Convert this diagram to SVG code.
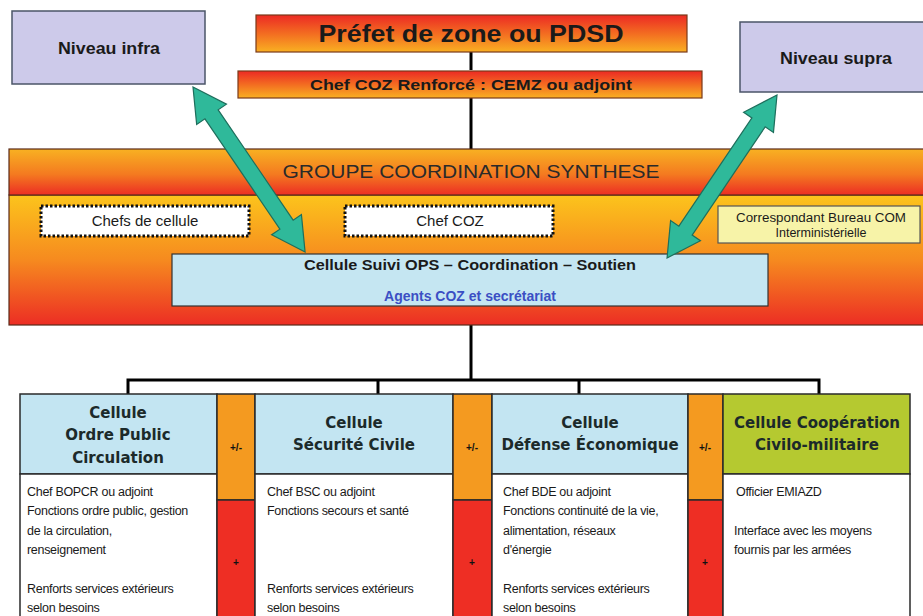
<svg xmlns="http://www.w3.org/2000/svg" width="923" height="616" viewBox="0 0 923 616">
<defs>
<linearGradient id="gTop" x1="0" y1="0" x2="0" y2="1">
<stop offset="0" stop-color="#ec2a24"/><stop offset="0.5" stop-color="#f36c21"/><stop offset="1" stop-color="#f9b022"/>
</linearGradient>
<linearGradient id="gHead" x1="0" y1="0" x2="0" y2="1">
<stop offset="0" stop-color="#f8b122"/><stop offset="0.55" stop-color="#f47a20"/><stop offset="1" stop-color="#ec2d24"/>
</linearGradient>
<linearGradient id="gBody" x1="0" y1="0" x2="0" y2="1">
<stop offset="0" stop-color="#fcc41c"/><stop offset="0.5" stop-color="#f68a1f"/><stop offset="1" stop-color="#ec2d24"/>
</linearGradient>
<style>
.t{font-family:"Liberation Sans",Arial,sans-serif;fill:#1a1a1a}
.b{font-weight:bold}
.blue{fill:#3b4fc4}
.grey{fill:#2a2a2a}
.niv{fill:#cdcaea;stroke:#4b5568;stroke-width:1.5}
.dot{fill:#ffffff;stroke:#111;stroke-width:3;stroke-dasharray:2.5,2}
.hd{font-family:"DejaVu Sans",Verdana,sans-serif;font-weight:bold;font-size:15px;fill:#1c2a2a}
.bd{font-family:"Liberation Sans",Arial,sans-serif;font-size:12.5px;fill:#1a1a1a;letter-spacing:-0.3px}
.cell{stroke:#2a2a2a;stroke-width:1.5}
.conn{fill:none;stroke:#000;stroke-width:3}
.arr{fill:#2fb99a;stroke:#1e6e5c;stroke-width:1.2}
.pm{font-family:"Liberation Sans",Arial,sans-serif;font-weight:bold;font-size:10px;fill:#111}
</style>
</defs>
<rect width="923" height="616" fill="#ffffff"/>

<g id="connectors">
<line class="conn" x1="471" y1="52" x2="471" y2="70"/>
<line class="conn" x1="471" y1="98" x2="471" y2="150"/>
<line class="conn" x1="471" y1="325" x2="471" y2="380"/>
<polyline class="conn" points="128,394 128,380 819,380 819,394"/>
<line class="conn" x1="378" y1="380" x2="378" y2="394"/>
<line class="conn" x1="579" y1="380" x2="579" y2="394"/>
</g>

<g id="niveau-infra">
<rect class="niv" x="12" y="11" width="193" height="73"/>
<text class="t b" x="109" y="54" font-size="16" text-anchor="middle" textLength="102" lengthAdjust="spacingAndGlyphs">Niveau infra</text>
</g>
<g id="niveau-supra">
<rect class="niv" x="740" y="22" width="190" height="70"/>
<text class="t b" x="836" y="64" font-size="16" text-anchor="middle" textLength="112" lengthAdjust="spacingAndGlyphs">Niveau supra</text>
</g>
<g id="prefet">
<rect x="256" y="15" width="431" height="37" fill="url(#gTop)" stroke="#7a3a1a" stroke-width="1.2"/>
<text class="t b" x="471" y="42" font-size="23" text-anchor="middle" textLength="305" lengthAdjust="spacingAndGlyphs">Préfet de zone ou PDSD</text>
</g>
<g id="chef-coz-renforce">
<rect x="238" y="71" width="464" height="27" fill="url(#gTop)" stroke="#7a3a1a" stroke-width="1.2"/>
<text class="t b" x="471" y="90" font-size="15" text-anchor="middle" textLength="322" lengthAdjust="spacingAndGlyphs">Chef COZ Renforcé : CEMZ ou adjoint</text>
</g>

<g id="groupe-coordination">
<rect x="9" y="195" width="920" height="130" fill="url(#gBody)" stroke="#5a2a1a" stroke-width="1.2"/>
<rect x="9" y="149" width="920" height="46" fill="url(#gHead)" stroke="#5a2a1a" stroke-width="1.2"/>
<text class="t grey" x="471" y="178" font-size="19" text-anchor="middle" textLength="377" lengthAdjust="spacingAndGlyphs">GROUPE COORDINATION SYNTHESE</text>
</g>
<g id="chefs-de-cellule">
<rect class="dot" x="41" y="206" width="208" height="30"/>
<text class="t" x="145" y="226" font-size="15" text-anchor="middle">Chefs de cellule</text>
</g>
<g id="chef-coz">
<rect class="dot" x="345" y="206" width="208" height="30"/>
<text class="t" x="450" y="226" font-size="15" text-anchor="middle">Chef COZ</text>
</g>
<g id="correspondant">
<rect x="718" y="206" width="202" height="37" fill="#f7f3a8" stroke="#555" stroke-width="1.2"/>
<text class="t" x="821" y="222" font-size="12.5" text-anchor="middle" textLength="170" lengthAdjust="spacingAndGlyphs">Correspondant Bureau COM</text>
<text class="t" x="821" y="237" font-size="12.5" text-anchor="middle">Interministérielle</text>
</g>
<g id="cellule-suivi">
<rect x="172" y="254" width="596" height="52" fill="#c5e6f2" stroke="#333" stroke-width="1.2"/>
<text class="t b" x="470" y="270" font-size="14" text-anchor="middle" textLength="332" lengthAdjust="spacingAndGlyphs">Cellule Suivi OPS – Coordination – Soutien</text>
<text class="t b blue" x="470" y="301" font-size="14" text-anchor="middle">Agents COZ et secrétariat</text>
</g>

<g id="arrow-infra">
<polygon class="arr" transform="translate(193,87) rotate(55.8)" points="0,0 33,-18 33,-8 166.4,-8 166.4,-18 199.4,0 166.4,18 166.4,8 33,8 33,18"/>
</g>
<g id="arrow-supra">
<polygon class="arr" transform="translate(777,95) rotate(124)" points="0,0 33,-18 33,-8 163.6,-8 163.6,-18 196.6,0 163.6,18 163.6,8 33,8 33,18"/>
</g>

<g id="cellule-ordre-public">
<rect class="cell" x="20" y="394" width="197" height="80" fill="#c3e5f2"/>
<rect class="cell" x="20" y="474" width="197" height="150" fill="#ffffff"/>
<text class="hd" x="118" y="418" text-anchor="middle">Cellule</text>
<text class="hd" x="118" y="440" text-anchor="middle">Ordre Public</text>
<text class="hd" x="118" y="463" text-anchor="middle">Circulation</text>
<text class="bd" x="27" y="496">Chef BOPCR ou adjoint</text>
<text class="bd" x="27" y="515">Fonctions ordre public, gestion</text>
<text class="bd" x="27" y="535">de la circulation,</text>
<text class="bd" x="27" y="554">renseignement</text>
<text class="bd" x="27" y="593">Renforts services extérieurs</text>
<text class="bd" x="27" y="612">selon besoins</text>
</g>
<g id="strip-1">
<rect class="cell" x="217" y="394" width="38" height="106" fill="#f49a20"/>
<rect class="cell" x="217" y="500" width="38" height="124" fill="#ee2e24"/>
<text class="pm" x="236" y="451" text-anchor="middle">+/-</text>
<text class="pm" x="236" y="566" text-anchor="middle">+</text>
</g>
<g id="cellule-securite-civile">
<rect class="cell" x="255" y="394" width="198" height="80" fill="#c3e5f2"/>
<rect class="cell" x="255" y="474" width="198" height="150" fill="#ffffff"/>
<text class="hd" x="354" y="428" text-anchor="middle">Cellule</text>
<text class="hd" x="354" y="450" text-anchor="middle">Sécurité Civile</text>
<text class="bd" x="267" y="496">Chef BSC ou adjoint</text>
<text class="bd" x="267" y="515">Fonctions secours et santé</text>
<text class="bd" x="267" y="593">Renforts services extérieurs</text>
<text class="bd" x="267" y="612">selon besoins</text>
</g>
<g id="strip-2">
<rect class="cell" x="453" y="394" width="39" height="106" fill="#f49a20"/>
<rect class="cell" x="453" y="500" width="39" height="124" fill="#ee2e24"/>
<text class="pm" x="472" y="451" text-anchor="middle">+/-</text>
<text class="pm" x="472" y="566" text-anchor="middle">+</text>
</g>
<g id="cellule-defense-economique">
<rect class="cell" x="492" y="394" width="196" height="80" fill="#c3e5f2"/>
<rect class="cell" x="492" y="474" width="196" height="150" fill="#ffffff"/>
<text class="hd" x="590" y="428" text-anchor="middle">Cellule</text>
<text class="hd" x="590" y="450" text-anchor="middle">Défense Économique</text>
<text class="bd" x="503" y="496">Chef BDE ou adjoint</text>
<text class="bd" x="503" y="515">Fonctions continuité de la vie,</text>
<text class="bd" x="503" y="535">alimentation, réseaux</text>
<text class="bd" x="503" y="554">d'énergie</text>
<text class="bd" x="503" y="593">Renforts services extérieurs</text>
<text class="bd" x="503" y="612">selon besoins</text>
</g>
<g id="strip-3">
<rect class="cell" x="688" y="394" width="35" height="106" fill="#f49a20"/>
<rect class="cell" x="688" y="500" width="35" height="124" fill="#ee2e24"/>
<text class="pm" x="705" y="451" text-anchor="middle">+/-</text>
<text class="pm" x="705" y="566" text-anchor="middle">+</text>
</g>
<g id="cellule-cooperation">
<rect class="cell" x="723" y="394" width="187" height="80" fill="#b5c930"/>
<rect class="cell" x="723" y="474" width="187" height="150" fill="#ffffff"/>
<text class="hd" x="817" y="428" text-anchor="middle">Cellule Coopération</text>
<text class="hd" x="817" y="450" text-anchor="middle">Civilo-militaire</text>
<text class="bd" x="736" y="496">Officier EMIAZD</text>
<text class="bd" x="734" y="535">Interface avec les moyens</text>
<text class="bd" x="734" y="554">fournis par les armées</text>
</g>
</svg>
